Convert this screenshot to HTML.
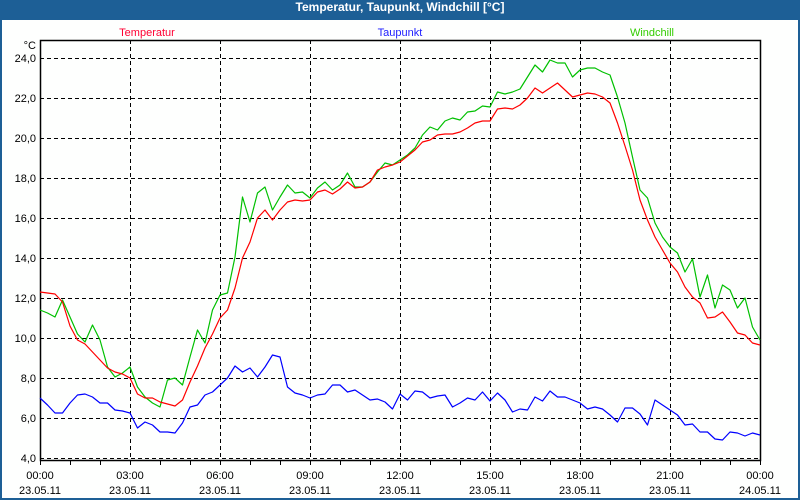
<!DOCTYPE html>
<html><head><meta charset="utf-8">
<style>
html,body{margin:0;padding:0;background:#fff;}
#wrap{position:relative;width:800px;height:500px;overflow:hidden;background:#1d5f96;}
#inner{position:absolute;left:2px;top:20px;width:796px;height:478px;background:#fefffe;}
#title{position:absolute;left:0;top:0;width:800px;height:20px;line-height:20px;text-align:center;color:#fff;font:bold 12px "Liberation Sans",sans-serif;}
svg{position:absolute;left:0;top:0;}
text{font-family:"Liberation Sans",sans-serif;font-size:11px;}
</style></head>
<body>
<div id="wrap">
<div id="inner"></div>
<div id="title">Temperatur, Taupunkt, Windchill [°C]</div>
<svg id="chart" width="800" height="500"></svg>
</div>
<script>
const hourTicks=[0,3,6,9,12,15,18,21,24];
const timeLabels=["00:00","03:00","06:00","09:00","12:00","15:00","18:00","21:00","00:00"];
const dateLabels=["23.05.11","23.05.11","23.05.11","23.05.11","23.05.11","23.05.11","23.05.11","23.05.11","24.05.11"];
const yTicks=[4,6,8,10,12,14,16,18,20,22,24];
const yTickLabels=["4,0","6,0","8,0","10,0","12,0","14,0","16,0","18,0","20,0","22,0","24,0"];
// values every 15 minutes, 00:00 .. 24:00
const temperatur=[12.3,12.25,12.2,11.8,10.6,9.9,9.7,9.3,8.9,8.5,8.3,8.2,8.0,7.2,7.0,7.0,6.8,6.7,6.6,6.9,7.8,8.6,9.5,10.2,11.0,11.4,12.5,14.0,14.8,16.0,16.4,15.9,16.4,16.8,16.9,16.85,16.9,17.3,17.4,17.2,17.45,17.8,17.5,17.55,17.8,18.4,18.55,18.65,18.8,19.1,19.4,19.8,19.9,20.15,20.2,20.2,20.3,20.5,20.75,20.85,20.85,21.45,21.5,21.45,21.65,22.0,22.5,22.25,22.5,22.75,22.4,22.05,22.15,22.25,22.2,22.05,21.75,20.75,19.6,18.4,16.9,15.9,15.05,14.4,13.75,13.3,12.55,12.05,11.75,11.0,11.05,11.3,10.8,10.25,10.15,9.75,9.65];
const windchill=[11.4,11.25,11.05,11.9,11.05,10.2,9.8,10.65,9.9,8.55,8.05,8.25,8.55,7.55,7.05,6.75,6.55,7.9,8.0,7.65,9.05,10.4,9.75,11.4,12.15,12.25,14.05,17.05,15.8,17.25,17.55,16.4,17.05,17.65,17.25,17.3,17.0,17.5,17.8,17.4,17.65,18.25,17.55,17.55,17.8,18.3,18.75,18.65,18.9,19.15,19.5,20.15,20.55,20.4,20.85,21.0,20.9,21.3,21.35,21.6,21.55,22.3,22.2,22.3,22.45,23.05,23.65,23.3,23.9,23.75,23.75,23.05,23.4,23.5,23.5,23.3,23.15,22.05,20.75,19.05,17.4,17.0,15.75,15.05,14.55,14.25,13.3,13.95,12.05,13.15,11.5,12.65,12.4,11.5,12.0,10.55,9.9];
const taupunkt=[7.0,6.65,6.25,6.25,6.75,7.15,7.2,7.05,6.75,6.75,6.4,6.35,6.25,5.5,5.8,5.65,5.3,5.3,5.25,5.75,6.55,6.65,7.15,7.3,7.65,8.0,8.6,8.3,8.5,8.05,8.55,9.15,9.05,7.55,7.25,7.15,7.0,7.15,7.2,7.65,7.65,7.3,7.4,7.15,6.9,6.95,6.8,6.45,7.2,6.9,7.35,7.3,7.0,7.1,7.15,6.55,6.75,7.0,6.9,7.3,6.85,7.25,6.9,6.3,6.45,6.4,7.05,6.85,7.35,7.05,7.05,6.9,6.75,6.45,6.55,6.45,6.15,5.8,6.5,6.5,6.2,5.65,6.9,6.65,6.4,6.15,5.65,5.7,5.3,5.3,4.95,4.9,5.3,5.25,5.1,5.25,5.15];
const seriesNames=["Temperatur","Taupunkt","Windchill"];

const X0=40,X1=760,Y0=40,Y1=460;
const xs=h=>X0+(h/24)*(X1-X0);
const ys=v=>458-(v-4)*20;
const svg=document.getElementById('chart');
const NS='http://www.w3.org/2000/svg';
function mk(tag,attrs){const e=document.createElementNS(NS,tag);for(const k in attrs)e.setAttribute(k,attrs[k]);svg.appendChild(e);return e;}

// horizontal grid
yTicks.forEach((v,i)=>{
  const g=mk('line',{x1:X0,x2:X1,y1:ys(v)+0.5,y2:ys(v)+0.5,stroke:'#000','stroke-dasharray':'4,3','stroke-width':1});
  
  
  const t=mk('text',{x:36,y:ys(v)+4,'text-anchor':'end',fill:'#000'});
  t.textContent=yTickLabels[i];
  
  
});
// vertical grid + x labels
hourTicks.forEach((h,i)=>{
  if(h>0&&h<24){
    const g=mk('line',{x1:xs(h)+0.5,x2:xs(h)+0.5,y1:Y0,y2:Y1+5,stroke:'#000','stroke-dasharray':'4,3','stroke-width':1});
    
    
  }
  const t1=mk('text',{x:xs(h),y:479,'text-anchor':'middle',fill:'#000'});
  t1.textContent=timeLabels[i];
  
  
  const t2=mk('text',{x:xs(h),y:494,'text-anchor':'middle',fill:'#000'});
  t2.textContent=dateLabels[i];
  
  
});
// minor hour ticks
for(let h=0;h<=24;h++){
  const m=mk('line',{x1:xs(h)+0.5,x2:xs(h)+0.5,y1:Y1,y2:Y1+5,stroke:'#000'});
  
  
}
// axes frame
const fr=mk('rect',{x:X0+0.5,y:Y0+0.5,width:X1-X0,height:Y1-Y0,fill:'none',stroke:'#000','stroke-width':1.5});


const unit=mk('text',{x:36,y:49,'text-anchor':'end',fill:'#000'});
unit.textContent='°C';



function drawLine(data,color,name){
  const pts=data.map((v,i)=>xs(i*0.25).toFixed(1)+','+ys(v).toFixed(1)).join(' ');
  const p=mk('polyline',{points:pts,fill:'none',stroke:color,'stroke-width':1.2,'stroke-linejoin':'round'});
  
  
}
drawLine(taupunkt,'#0000ff','taupunkt-line');
drawLine(windchill,'#00c000','windchill-line');
drawLine(temperatur,'#ff0000','temperatur-line');

// legend
const legX=[147,400,652],legC=['#ff0033','#2020ff','#33cc00'];
seriesNames.forEach((n,i)=>{
  const t=mk('text',{x:legX[i],y:36,'text-anchor':'middle',fill:legC[i]});
  t.textContent=n;
  
  
});
</script>
</body></html>
